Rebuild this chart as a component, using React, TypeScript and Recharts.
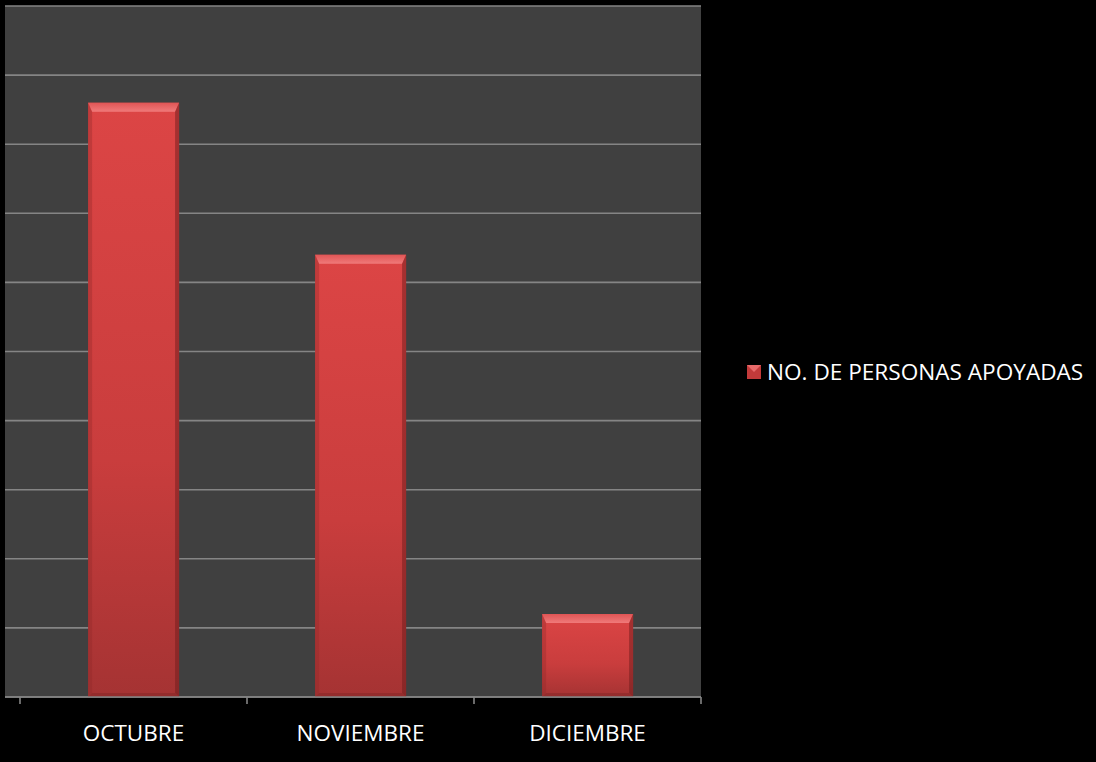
import { Bar, CartesianGrid, ComposedChart, Legend, XAxis, YAxis } from 'recharts'

const months = ['OCTUBRE', 'NOVIEMBRE', 'DICIEMBRE']
const personasApoyadas = [43, 32, 6]
const yTicks = [0, 5, 10, 15, 20, 25, 30, 35, 40, 45, 50]
const seriesName = 'NO. DE PERSONAS APOYADAS'

const data = months.map((month, i) => ({ month, value: personasApoyadas[i] }))

const FONT = '"Open Sans", "Liberation Sans", sans-serif'
const GRID = '#858585'

function BevelBar(props: any) {
  const { x, y, width, height } = props
  if (!height || height <= 0) return null
  const b = Math.min(9, height / 3)
  const s = Math.min(4, height / 3)
  return (
    <g>
      <rect x={x} y={y} width={width} height={height} fill="url(#barBody)" />
      {/* top bevel */}
      <polygon
        points={`${x},${y} ${x + width},${y} ${x + width - s},${y + b} ${x + s},${y + b}`}
        fill="url(#barTop)"
      />
      {/* side bevels */}
      <polygon
        points={`${x},${y} ${x + s},${y + b} ${x + s},${y + height - s} ${x},${y + height}`}
        fill="#8e2828"
        opacity={0.35}
      />
      <polygon
        points={`${x + width},${y} ${x + width - s},${y + b} ${x + width - s},${y + height - s} ${x + width},${y + height}`}
        fill="#6e1c1c"
        opacity={0.5}
      />
      <polygon
        points={`${x},${y + height} ${x + s},${y + height - s} ${x + width - s},${y + height - s} ${x + width},${y + height}`}
        fill="#7a2222"
        opacity={0.4}
      />
    </g>
  )
}

// label in the band centre, tick marks on the band edges (Excel style)
function MonthTick(props: any) {
  const { x, y, payload, index, visibleTicksCount } = props
  const half = payload.offset || 0
  const isLast = index === visibleTicksCount - 1
  return (
    <g>
      <line x1={x - half} x2={x - half} y1={y} y2={y + 7} stroke={GRID} strokeWidth={1.6} />
      {isLast && <line x1={x + half} x2={x + half} y1={y} y2={y + 7} stroke={GRID} strokeWidth={1.6} />}
      <text x={x} y={y + 44} textAnchor="middle" fill="#ffffff" fontFamily={FONT} fontSize={22.5}>
        {payload.value}
      </text>
    </g>
  )
}

function LegendContent(props: any) {
  const { payload = [] } = props
  return (
    <div>
      {payload.map((entry: any) => (
        <div
          key={entry.value}
          style={{ display: 'flex', alignItems: 'center', fontFamily: FONT, fontSize: 22.6, color: '#ffffff' }}
        >
          <svg width={14} height={14} style={{ marginRight: 6 }}>
            <rect x={0} y={0} width={14} height={14} fill="#c23a3a" />
            <polygon points="0,0 14,0 7,7" fill="#e86a6a" />
          </svg>
          <span>{entry.value}</span>
        </div>
      ))}
    </div>
  )
}

export default function App() {
  return (
    <div style={{ width: 1096, height: 762, background: '#000000', position: 'relative' }}>
      <style>{'body{margin:0;background:#000000}'}</style>
      <ComposedChart
        width={1096}
        height={762}
        data={data}
        margin={{ top: 6, right: 46, bottom: 24, left: 5 }}
        barCategoryGap="30%"
      >
        <defs>
          <linearGradient id="barBody" x1="0" y1="0" x2="0" y2="1">
            <stop offset="0%" stopColor="#dc4545" />
            <stop offset="60%" stopColor="#c93d3d" />
            <stop offset="100%" stopColor="#a53333" />
          </linearGradient>
          <linearGradient id="barTop" x1="0" y1="0" x2="0" y2="1">
            <stop offset="0%" stopColor="#e05555" />
            <stop offset="100%" stopColor="#f07a7a" />
          </linearGradient>
        </defs>
        <CartesianGrid vertical={false} fill="#404040" stroke={GRID} strokeWidth={1.6} />
        <YAxis hide domain={[0, 50]} ticks={yTicks} />
        <XAxis
          dataKey="month"
          padding={{ left: 15, right: 0 }}
          axisLine={{ stroke: GRID, strokeWidth: 1.6 }}
          tickLine={false}
          tickSize={0}
          tickMargin={0}
          tick={<MonthTick />}
          interval={0}
          height={41}
        />
        <Legend
          layout="vertical"
          align="right"
          verticalAlign="middle"
          content={<LegendContent />}
          wrapperStyle={{ left: 747, top: 356, width: 349 }}
        />
        <Bar
          dataKey="value"
          name={seriesName}
          fill="#c93d3d"
          shape={<BevelBar />}
          isAnimationActive={false}
        />
      </ComposedChart>
    </div>
  )
}
